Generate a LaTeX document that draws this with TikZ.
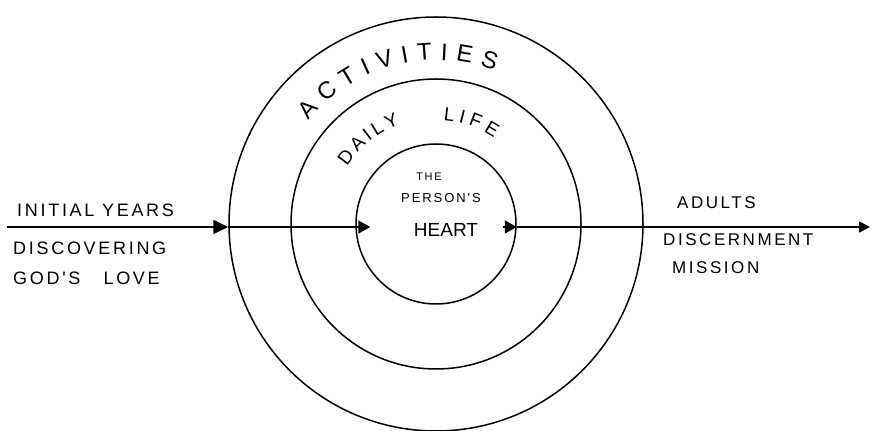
\documentclass[tikz,border=0pt]{standalone}
\usepackage{fontspec}
\newfontfamily\hand[LetterSpace=15]{Liberation Sans}
\newfontfamily\handb{Liberation Sans}
\usetikzlibrary{arrows.meta,calc,decorations.text}
\begin{document}
\begin{tikzpicture}[x=1pt,y=1pt,
  ring/.style={circle,draw,line width=1.5pt,inner sep=0pt},
  conn/.style={line width=1.6pt},
  bigarr/.style={conn,-{Triangle[length=15pt,width=14pt]}},
  midarr/.style={conn,-{Triangle[length=12pt,width=13pt]}},
  endarr/.style={conn,-{Triangle[length=11pt,width=11pt]}},
  lbl/.style={anchor=west,inner sep=0pt,font=\hand\fontsize{17}{19}\selectfont},
  lblb/.style={anchor=west,inner sep=0pt,font=\hand\fontsize{18}{20}\selectfont}]
\useasboundingbox (0,0) rectangle (873,431);
% rings
\node[ring,minimum size=414pt] (outer) at (436,207) {};
\node[ring,minimum size=290pt] (middle) at (436,207) {};
\node[ring,minimum size=160pt] (inner) at (436,207) {};
% line
\coordinate (start) at (7,204);
\coordinate (end) at (870,204);
\draw[bigarr] (start) -- (start -| outer.west);
\draw[midarr] (start -| outer.west) -- ($(start -| inner.west)+(15,0)$);
\draw[midarr] ($(start -| inner.east)-(14,0)$) -- (start -| inner.east);
\draw[endarr] (start -| inner.east) -- (end);
% side labels
\node[lblb] (iy) at (17,221) {INITIAL\ YEARS};
\node[lblb] (dc) at (13,183) {DISCOVERING};
\node[lblb] (gl) at (13,153) {GOD'S\ \ \ LOVE};
\node[lbl] (ad) at (677,228) {ADULTS};
\node[lbl] (dm) at (663,191) {DISCERNMENT};
\node[lbl] (ms) at (672,163) {MISSION};
% inner labels
\node[inner sep=0pt,font=\hand\fontsize{11}{13}\selectfont] (the) at (429,254) {THE};
\node[inner sep=0pt,font=\hand\fontsize{13}{15}\selectfont] (pers) at (441,233) {PERSON'S};
\node[inner sep=0pt,font=\handb\fontsize{19}{21}\selectfont] (heart) at (446,201) {HEART};
% curved labels
\path[decorate,decoration={text along path,text align=fit to path,
  text={|\handb\fontsize{24}{26}\selectfont|ACTIVITIES}}]
  (outer.center) ++(141:164) arc[start angle=141,end angle=69,radius=164];
\path[decorate,decoration={text along path,text align=fit to path,
  text={|\handb\fontsize{19}{21}\selectfont|DAILY}}]
  (outer.center) ++(147:106) arc[start angle=147,end angle=110,radius=106];
\path[decorate,decoration={text along path,text align=fit to path,
  text={|\handb\fontsize{19}{21}\selectfont|LIFE}}]
  (outer.center) ++(86:104) arc[start angle=86,end angle=56,radius=104];
\end{tikzpicture}
\end{document}
